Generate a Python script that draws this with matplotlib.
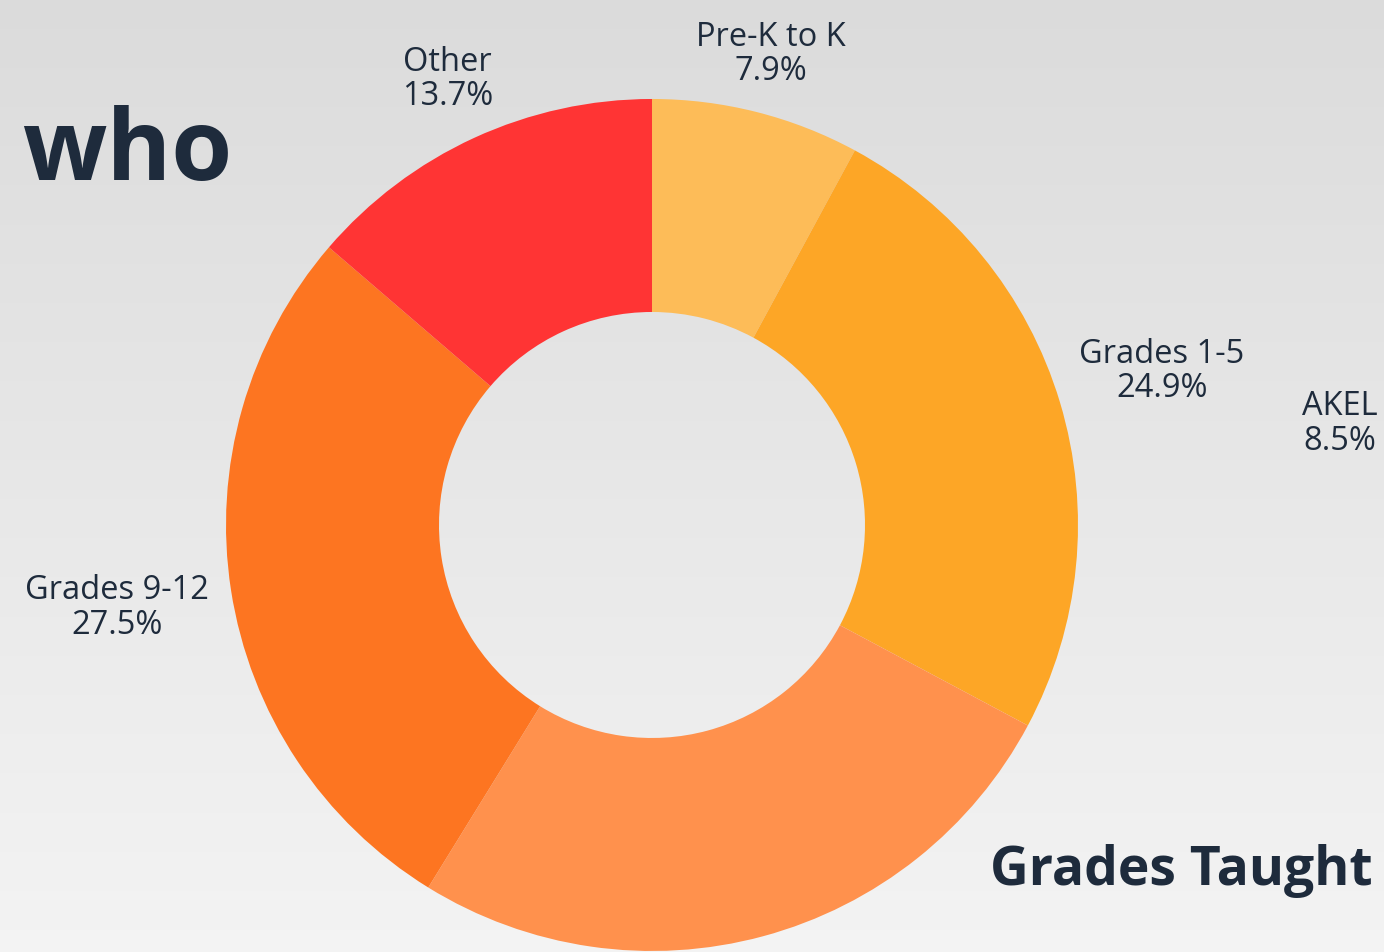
"""Donut chart: grades taught by survey respondents."""

import numpy as np
import matplotlib.pyplot as plt

plt.rcParams["font.family"] = ["Open Sans", "DejaVu Sans"]

# data
categories = ["Pre-K to K", "Grades 1-5", "Grades 6-8", "Grades 9-12", "Other"]
shares = [7.9, 24.9, 26.0, 27.5, 13.7]
show_label = [True, True, False, True, True]

colors = ["#FDBC58", "#FDA626", "#FF914D", "#FD7521", "#FF3434"]
label_radius = [1.14, 1.25, 1.2, 1.27, 1.15]
TEXT = "#1E2B3C"

fig = plt.figure(figsize=(13.84, 9.52), dpi=100)

# soft grey backdrop (top darker, bottom lighter)
bg = fig.add_axes([0, 0, 1, 1])
shade = np.linspace(0.86, 0.955, 400)
grad = np.repeat(shade[:, None, None], 3, axis=2)
bg.imshow(grad, aspect="auto", extent=[0, 1, 0, 1], origin="upper",
          interpolation="bilinear")
bg.set_axis_off()

ax = fig.add_axes([0.1633, 0.00105, 0.6156, 0.895])
ax.set_axis_off()

wedges, _ = ax.pie(
    shares,
    colors=colors,
    startangle=90,
    counterclock=False,
    radius=1.0,
    wedgeprops=dict(width=0.5, linewidth=0),
)
ax.set_xlim(-1, 1)
ax.set_ylim(-1, 1)
ax.set_aspect("equal")

total = sum(shares)
cum = 0.0
for name, val, show, r in zip(categories, shares, show_label, label_radius):
    mid = 90 - 360 * (cum + val / 2) / total
    cum += val
    if not show:
        continue
    t = np.deg2rad(mid)
    ax.text(r * np.cos(t), r * np.sin(t), f"{name}\n{val:.1f}%",
            ha="center", va="center", fontsize=23.5, color=TEXT,
            linespacing=1.05, clip_on=False)

# label near the right edge (runs off the edge in the original)
fig.text(1378 / 1384, 1 - 424 / 952, "AKEL\n8.5%", ha="right", va="center",
         fontsize=23.5, color=TEXT, linespacing=1.05, multialignment="center")

fig.text(22 / 1384, 1 - 180 / 952, "who", ha="left", va="baseline",
         fontsize=71, fontweight="bold", color=TEXT)
fig.text(990 / 1384, 1 - 885 / 952, "Grades Taught", ha="left", va="baseline",
         fontsize=38.5, fontweight="bold", color=TEXT)

fig.savefig("out.png", dpi=100)
